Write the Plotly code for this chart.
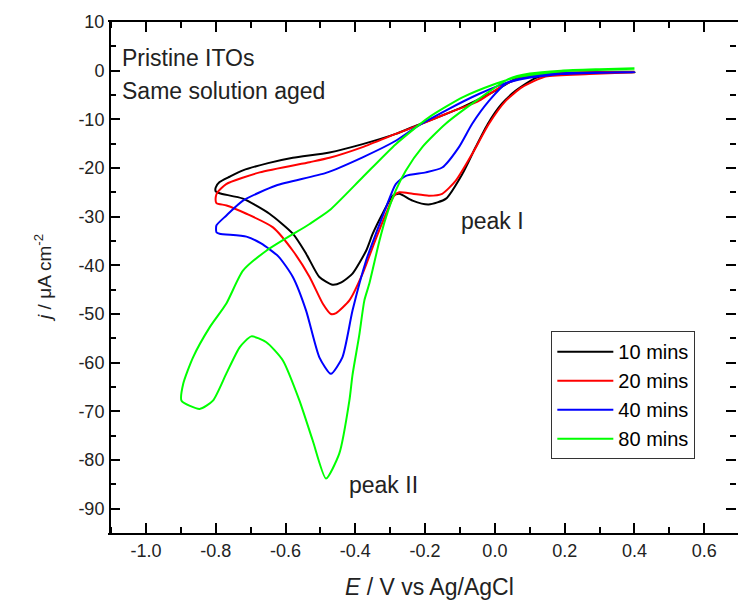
import plotly.graph_objects as go

# ---- data (E in V vs Ag/AgCl, j in uA cm^-2) ----
E_10 = [0.40, 0.30, 0.19, 0.12, 0.06, 0.02, -0.02, -0.055, -0.093, -0.14, -0.19, -0.236, -0.274, -0.293,
        -0.322, -0.35, -0.369, -0.408, -0.44, -0.465, -0.503, -0.541, -0.579, -0.646, -0.722, -0.789, -0.80,
        -0.80, -0.789, -0.76, -0.722, -0.65, -0.579, -0.474, -0.379, -0.284, -0.226, -0.15, -0.093, 0.002,
        0.059, 0.145, 0.288, 0.40]
j_10 = [-0.3, -0.4, -0.7, -1.4, -4.1, -6.8, -10.9, -15.7, -21.2, -26.3, -27.5, -26.7, -25.3, -25.7,
        -29.4, -33.5, -37.0, -41.7, -43.5, -44.0, -42.4, -37.6, -33.5, -29.4, -26.3, -25.2, -24.8,
        -24.0, -22.9, -21.8, -20.5, -19.0, -17.9, -16.8, -15.1, -13.0, -11.3, -9.2, -7.5, -4.1,
        -1.7, -0.7, -0.3, -0.3]

E_20 = [0.40, 0.27, 0.145, 0.078, 0.031, -0.017, -0.065, -0.112, -0.151, -0.189, -0.236, -0.274, -0.289,
        -0.312, -0.341, -0.379, -0.417, -0.455, -0.47, -0.493, -0.531, -0.579, -0.636, -0.712, -0.769, -0.798,
        -0.80, -0.795, -0.77, -0.674, -0.531, -0.474, -0.379, -0.284, -0.226, -0.141, -0.046, 0.031, 0.10,
        0.20, 0.40]
j_20 = [-0.3, -0.7, -1.2, -3.4, -6.2, -10.9, -17.1, -22.6, -25.3, -25.7, -25.3, -25.0, -25.7,
        -29.4, -34.5, -41.7, -47.2, -49.8, -50.0, -47.9, -42.4, -37.0, -32.2, -29.4, -27.7, -27.2,
        -26.0, -25.0, -23.3, -20.9, -18.8, -17.9, -15.7, -13.0, -11.4, -8.9, -6.2, -2.7, -1.0,
        -0.4, -0.2]

E_40 = [0.40, 0.192, 0.078, 0.031, -0.017, -0.065, -0.103, -0.151, -0.198, -0.255, -0.284, -0.312, -0.341,
        -0.369, -0.408, -0.437, -0.47, -0.503, -0.541, -0.579, -0.62, -0.67, -0.712, -0.789, -0.798,
        -0.798, -0.77, -0.722, -0.627, -0.484, -0.379, -0.284, -0.226, -0.141, -0.046, 0.049, 0.145, 0.40]
j_40 = [-0.3, -0.7, -1.7, -2.7, -6.2, -10.9, -15.7, -19.9, -20.9, -21.6, -23.3, -28.1, -33.5,
        -39.0, -49.3, -58.9, -62.3, -58.9, -49.3, -42.4, -38.2, -35.5, -34.1, -33.5, -33.2,
        -31.8, -29.8, -26.7, -23.6, -21.0, -17.8, -14.4, -11.6, -8.2, -4.8, -2.1, -0.7, -0.3]

E_80 = [0.40, 0.30, 0.19, 0.10, 0.04, -0.046, -0.141, -0.208, -0.255, -0.284, -0.312, -0.331, -0.36,
        -0.374, -0.389, -0.408, -0.417, -0.446, -0.484, -0.522, -0.56, -0.608, -0.655, -0.698, -0.731,
        -0.77, -0.808, -0.846, -0.898,
        -0.893, -0.865, -0.817, -0.77, -0.722, -0.655, -0.531, -0.474, -0.379, -0.284, -0.189, -0.093,
        0.002, 0.059, 0.192, 0.40]
j_80 = [0.5, 0.3, 0.0, -0.6, -1.7, -5.8, -10.9, -15.7, -20.5, -24.6, -30.1, -35.0, -43.8,
        -47.2, -54.5, -62.5, -67.8, -78.7, -83.8, -76.0, -67.8, -59.5, -55.8, -54.6, -56.8,
        -62.3, -67.8, -69.5, -67.8,
        -64.3, -58.9, -52.7, -47.9, -41.1, -37.0, -31.5, -28.7, -21.9, -15.1, -9.6, -5.5,
        -2.7, -1.4, -0.1, 0.3]

series_names = ["10 mins", "20 mins", "40 mins", "80 mins"]
series_colors = ["#000000", "#ff0000", "#0000ff", "#00ff00"]

x_tickvals = [-1.0, -0.8, -0.6, -0.4, -0.2, 0.0, 0.2, 0.4, 0.6]
x_ticktext = ["-1.0", "-0.8", "-0.6", "-0.4", "-0.2", "0.0", "0.2", "0.4", "0.6"]
y_tickvals = [10, 0, -10, -20, -30, -40, -50, -60, -70, -80, -90]
y_ticktext = ["10", "0", "-10", "-20", "-30", "-40", "-50", "-60", "-70", "-80", "-90"]

FONT = "Liberation Sans, Arial, sans-serif"

fig = go.Figure()
for E, j, name, col in zip([E_10, E_20, E_40, E_80], [j_10, j_20, j_40, j_80],
                           series_names, series_colors):
    fig.add_trace(go.Scatter(x=E, y=j, mode="lines", name=name,
                             line=dict(color=col, width=2, shape="spline", smoothing=0.6)))

X_RANGE = [-1.103, 0.691]
Y_RANGE = [-95, 10]

axis_common = dict(showgrid=False, zeroline=False, ticks="inside", ticklen=10, tickwidth=2,
                   tickcolor="black",
                   tickfont=dict(family=FONT, size=18, color="#222222"))

fig.update_layout(
    width=738, height=602,
    margin=dict(l=110, r=0, t=22, b=69),
    paper_bgcolor="white", plot_bgcolor="white",
    showlegend=True,
    xaxis=dict(range=X_RANGE, tickvals=x_tickvals, ticktext=x_ticktext,
               showline=True, linewidth=2, linecolor="black", mirror="ticks",
               minor=dict(ticks="inside", ticklen=6, tickwidth=2, tickcolor="black", dtick=0.1, tick0=0),
               **axis_common),
    # y axis: ticks on both sides; the visible spine is only on the left (drawn as a frame shape),
    # the right-hand spine lies just outside the picture in the reference
    yaxis=dict(range=Y_RANGE, tickvals=y_tickvals, ticktext=y_ticktext,
               showline=True, linewidth=2, linecolor="rgba(0,0,0,0)", mirror="ticks",
               minor=dict(ticks="inside", ticklen=6, tickwidth=2, tickcolor="black", dtick=5, tick0=0),
               **axis_common),
    legend=dict(x=0.705, y=0.395, xanchor="left", yanchor="top",
                bgcolor="white", bordercolor="#333333", borderwidth=1,
                font=dict(family=FONT, size=20, color="black"),
                itemwidth=56, tracegroupgap=0),
    font=dict(family=FONT),
)

# left spine
fig.add_shape(type="line", xref="paper", yref="paper", x0=0, x1=0, y0=0, y1=1,
              line=dict(color="black", width=2), layer="above")

annots = [
    dict(x=-1.074, y=2.7, text="Pristine ITOs"),
    dict(x=-1.074, y=-4.1, text="Same solution aged"),
    dict(x=-0.103, y=-30.8, text="peak I"),
    dict(x=-0.423, y=-85.2, text="peak II"),
]
for a in annots:
    fig.add_annotation(showarrow=False, xref="x", yref="y", xanchor="left", yanchor="middle",
                       font=dict(family=FONT, size=23, color="#222222"), **a)

fig.add_annotation(x=0.511, y=-0.106, xref="paper", yref="paper", showarrow=False,
                   text="<i>E</i> / V vs Ag/AgCl", xanchor="center", yanchor="middle",
                   font=dict(family=FONT, size=23, color="#222222"))
fig.add_annotation(x=-0.108, y=0.5, xref="paper", yref="paper", showarrow=False,
                   text="<i>j</i> / μA cm<sup>-2</sup>", textangle=-90,
                   xanchor="center", yanchor="middle",
                   font=dict(family=FONT, size=19, color="#222222"))

fig.write_html("out.html")
